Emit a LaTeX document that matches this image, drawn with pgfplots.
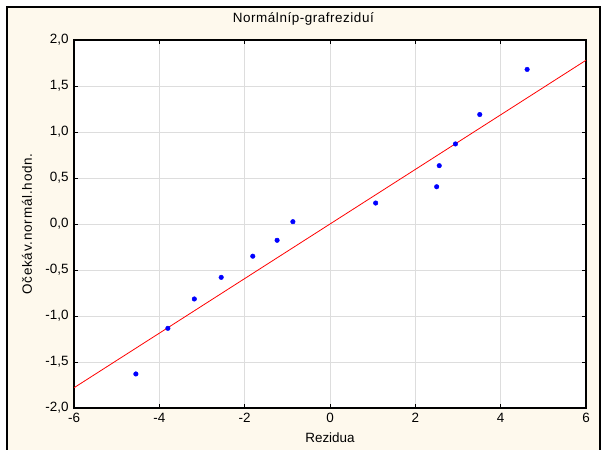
\documentclass[border=0pt]{standalone}
\usepackage{fontspec}
\setmainfont{Liberation Sans}
\usepackage{pgfplots}
\pgfplotsset{compat=1.18}
\definecolor{cream}{RGB}{254,249,237}
\definecolor{gridgray}{RGB}{221,221,221}

\begin{document}
\begin{tikzpicture}
\useasboundingbox (0,0) rectangle (603bp,450bp);
\fill[white] (0,0) rectangle (603bp,450bp);
\fill[cream] (7bp,-5bp) rectangle (600bp,443bp);
\draw[line width=1.6bp] (7bp,-5bp) -- (7bp,443bp) -- (600bp,443bp) -- (600bp,-5bp);
\begin{axis}[at={(74bp,42bp)}, anchor=south west, scale only axis,
  width=512bp, height=368bp,
  xmin=-6, xmax=6, ymin=-2, ymax=2,
  xtick={-6,-4,...,6}, ytick={-2,-1.5,...,2},
  axis background/.style={fill=white},
  grid=major, major grid style={gridgray, line width=0.8bp},
  axis line style={black, line width=1.2bp},
  tick align=inside, major tick length=4bp, tick style={black, line width=0.8bp},
  font=\fontsize{13.5}{15}\selectfont,
  /pgf/number format/assume math mode=true,
  xticklabel style={yshift=-2bp},
  yticklabel style={xshift=-2bp, /pgf/number format/.cd, fixed, fixed zerofill, precision=1, use comma, /tikz/.cd},
  title={\addfontfeature{LetterSpace=4}Normálníp-grafreziduí},
  title style={at={(axis description cs:0.448,1)}, anchor=base, yshift=12bp},
  xlabel={Rezidua},
  xlabel style={at={(axis description cs:0.5,0)}, anchor=base, yshift=-34bp},
  ylabel={\addfontfeature{LetterSpace=6}Očekáv.normál.hodn.},
  ylabel style={at={(axis description cs:-0.092,0.5)}, anchor=center}]
\addplot[red, line width=0.8bp] coordinates {(-6,-1.78) (6,1.78)};
\addplot[only marks, mark=*, mark size=2.3bp, blue, mark options={fill=blue, draw=blue}] coordinates {
  (-4.55,-1.63) (-3.80,-1.134) (-3.18,-0.815) (-2.55,-0.58) (-1.81,-0.35)
  (-1.24,-0.177) (-0.87,0.025) (1.07,0.228) (2.50,0.405) (2.56,0.634)
  (2.94,0.87) (3.51,1.19) (4.62,1.68)};
\end{axis}
\end{tikzpicture}
\end{document}
